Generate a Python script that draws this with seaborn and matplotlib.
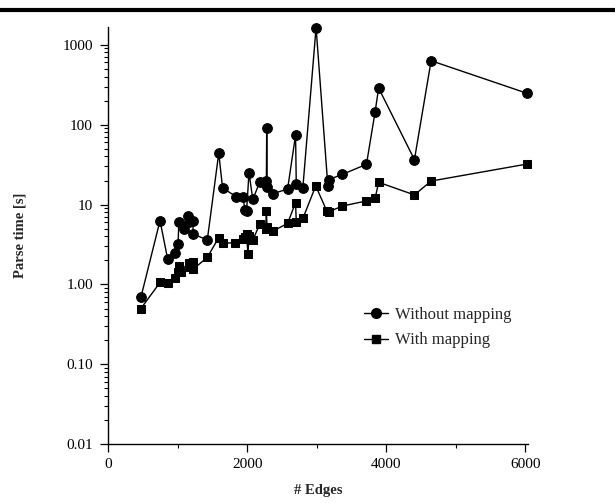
import pandas as pd
import matplotlib
matplotlib.use('Agg')
import matplotlib.pyplot as plt
import matplotlib.ticker as mticker
from matplotlib.lines import Line2D
import seaborn as sns

# Parse time vs number of edges
edges_without = [470, 745, 855, 955, 1005, 1015, 1090, 1150, 1160, 1220, 1220, 1425,
                 1590, 1645, 1840, 1940, 1965, 1990, 2025, 2080, 2180, 2275, 2280, 2285,
                 2365, 2580, 2695, 2705, 2800, 2990, 3160, 3170, 3370, 3715, 3840, 3890,
                 4405, 4645, 6030]
time_without = [0.69, 6.3, 2.07, 2.48, 3.2, 6.0, 4.9, 7.2, 6.0, 6.2, 4.3, 3.6,
                44, 16.1, 12.6, 12.6, 8.5, 8.3, 25, 11.6, 19.2, 19.7, 92, 16.8,
                13.7, 15.6, 74, 18.3, 16.3, 1640, 16.9, 20.5, 23.9, 31.9, 146, 287,
                36.5, 631, 246]

edges_with = [470, 745, 855, 955, 1005, 1015, 1040, 1155, 1175, 1220, 1220, 1425,
              1590, 1645, 1820, 1940, 1965, 1990, 2010, 2025, 2080, 2180, 2265, 2275,
              2285, 2365, 2580, 2695, 2705, 2800, 2985, 3145, 3170, 3370, 3715, 3840,
              3890, 4405, 4645, 6030]
time_with = [0.50, 1.06, 1.05, 1.19, 1.45, 1.7, 1.45, 1.88, 1.66, 1.9, 1.55, 2.18,
             3.87, 3.31, 3.31, 3.76, 3.95, 4.25, 2.42, 4.0, 3.6, 5.7, 5.0, 8.25,
             5.2, 4.64, 5.8, 10.6, 6.1, 6.7, 17.1, 8.3, 8.1, 9.6, 11.1, 12.0,
             19.0, 13.2, 19.7, 32.2]

y_ticks = [0.01, 0.1, 1, 10, 100, 1000]
y_tick_labels = ['0.01', '0.10', '1.00', '10', '100', '1000']
x_ticks = [0, 2000, 4000, 6000]

df_without = pd.DataFrame({'edges': edges_without, 'time': time_without})
df_with = pd.DataFrame({'edges': edges_with, 'time': time_with})

sns.set_style('ticks')
plt.rcParams['font.family'] = ['Liberation Serif', 'DejaVu Serif']

fig = plt.figure(figsize=(6.15, 5.03), dpi=100)
ax = fig.add_axes([0.176, 0.1167, 0.683, 0.8293])

sns.lineplot(data=df_without, x='edges', y='time', ax=ax, sort=False, estimator=None,
             color='black', marker='o', markersize=7, markeredgecolor='black',
             linewidth=1.0, clip_on=False)
sns.lineplot(data=df_with, x='edges', y='time', ax=ax, sort=False, estimator=None,
             color='black', marker='s', markersize=6.2, markeredgecolor='black',
             linewidth=1.0, clip_on=False)

ax.set_yscale('log')
ax.set_ylim(0.01, 1660)
ax.set_xlim(0, 6043)
ax.set_yticks(y_ticks)
ax.set_yticklabels(y_tick_labels)
ax.yaxis.set_minor_locator(mticker.LogLocator(base=10, subs=range(2, 10)))
ax.yaxis.set_minor_formatter(mticker.NullFormatter())
ax.set_xticks(x_ticks)
ax.xaxis.set_minor_locator(mticker.MultipleLocator(1000))

ax.tick_params(axis='both', which='major', direction='out', length=6, width=0.9,
               labelsize=11, color='black', labelcolor='black')
ax.tick_params(axis='x', which='major', pad=4)
ax.tick_params(axis='y', which='major', pad=5)
ax.tick_params(axis='both', which='minor', direction='out', length=2.8, width=0.8,
               color='black')

for side in ['top', 'right']:
    ax.spines[side].set_visible(False)
for side in ['left', 'bottom']:
    ax.spines[side].set_color('black')
    ax.spines[side].set_linewidth(1.0)

ax.set_xlabel('# Edges', fontsize=10.5, fontweight='bold', labelpad=9)
ax.set_ylabel('Parse time [s]', fontsize=10.5, fontweight='bold', labelpad=26)

handles = [Line2D([], [], color='black', marker='o', markersize=7, linewidth=1.0),
           Line2D([], [], color='black', marker='s', markersize=6.2, linewidth=1.0)]
ax.legend(handles, ['Without mapping', 'With mapping'], frameon=False, fontsize=12,
          loc='upper left', bbox_to_anchor=(0.592, 0.389), bbox_transform=fig.transFigure,
          borderpad=0, borderaxespad=0, handlelength=1.45, handletextpad=0.4,
          labelspacing=0.55)

# thick rule across the top of the page
fig.add_artist(Line2D([0, 1], [0.980, 0.980], transform=fig.transFigure,
                      color='black', linewidth=3.0))

fig.savefig('out.png', dpi=100)
